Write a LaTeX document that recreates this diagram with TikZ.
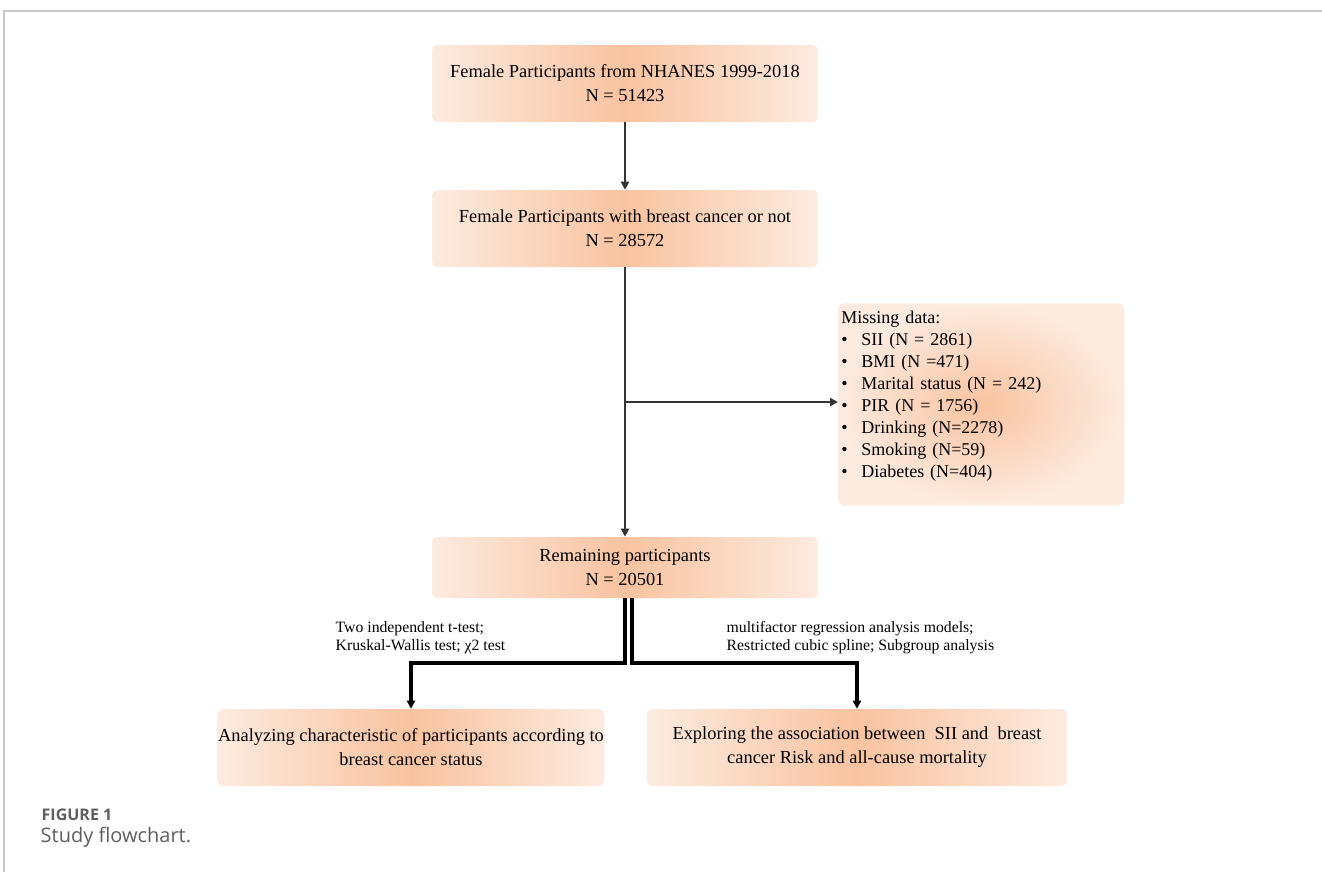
\documentclass[tikz,border=0pt]{standalone}
\usepackage{fontspec}
\setmainfont{Liberation Serif}
\newfontfamily\capfont{Open Sans}
\usetikzlibrary{arrows.meta}
\definecolor{peachmid}{HTML}{F9C3A0}
\definecolor{peachedge}{HTML}{FDEBE0}
\definecolor{flowgray}{HTML}{333333}
\definecolor{framegray}{HTML}{C8C8C8}
\definecolor{capgray}{HTML}{5E5E5E}
\begin{document}
\begin{tikzpicture}[x=0.75pt,y=-0.75pt,
	box/.style={rectangle, rounded corners=4pt, left color=peachedge, right color=peachedge, middle color=peachmid, align=center, inner xsep=0.5pt, font=\fontsize{13.8}{18}\selectfont, minimum width=289.5pt, minimum height=57.75pt},
	flow/.style={draw=flowgray, line width=2.2pt, -{Triangle[length=6pt,width=6pt]}},
	split/.style={draw=black, line width=2.5pt, -{Triangle[length=6pt,width=6pt]}},
	note/.style={anchor=west, align=left, font=\fontsize{11.8}{13.5}\selectfont}]
\useasboundingbox (0,0) rectangle (1322,872);
\draw[framegray, line width=0.9pt] (1322,11) -- (4,11) -- (4,872);
\node [box] (all) at (625,83.5) {Female Participants from NHANES 1999-2018\\N = 51423};
\node [box] (bc) at (625,228.5) {Female Participants with breast cancer or not\\N = 28572};
\node [box, minimum height=45.75pt] (remain) at (625,567.5) {Remaining participants\\N = 20501};
\node [rectangle, rounded corners=4pt, inner color=peachmid, outer color=peachedge, align=left, anchor=north west, inner sep=1.5pt, minimum width=214.5pt, minimum height=151.5pt, text width=210pt, font=\fontsize{13.5}{16.5}\selectfont] (miss) at (838,303) {Missing data:\\
	\makebox[15pt][l]{\textbullet}SII (N = 2861)\\
	\makebox[15pt][l]{\textbullet}BMI (N =471)\\
	\makebox[15pt][l]{\textbullet}Marital status (N = 242)\\
	\makebox[15pt][l]{\textbullet}PIR (N = 1756)\\
	\makebox[15pt][l]{\textbullet}Drinking (N=2278)\\
	\makebox[15pt][l]{\textbullet}Smoking (N=59)\\
	\makebox[15pt][l]{\textbullet}Diabetes (N=404)\\[-2pt]\mbox{}};
\node [box] (chara) at (411,747.5) {Analyzing characteristic of participants according to\\breast cancer status};
\node [box, minimum width=315pt] (assoc) at (857,747.5) {Exploring the association between~ SII and~ breast\\cancer Risk and all-cause mortality};
% connectors
\coordinate (branch) at (625,402);
\coordinate (fork) at (628,663);
\draw [flow] (all) -- (bc);
\draw [flow] (bc) -- (remain);
\draw [flow] (branch) -- (miss.west |- branch);
\draw [split] (remain.south) -- (remain.south |- fork) -| (chara.north);
\draw [split] ([xshift=5.25pt]remain.south) -- ([xshift=5.25pt]remain.south |- fork) -| (assoc.north);
\node [note] (tests) at (331,638) {Two independent t-test;\\Kruskal-Wallis test; χ2 test};
\node [note] (models) at (722,638) {multifactor regression analysis models;\\Restricted cubic spline; Subgroup analysis};
% caption
\node [anchor=west, text=capgray, font=\capfont\bfseries\fontsize{12}{14}\selectfont] (figno) at (37,815) {FIGURE 1};
\node [anchor=west, text=capgray, font=\capfont\fontsize{15}{18}\selectfont] (figcap) at (36,837) {Study flowchart.};
\end{tikzpicture}
\end{document}
